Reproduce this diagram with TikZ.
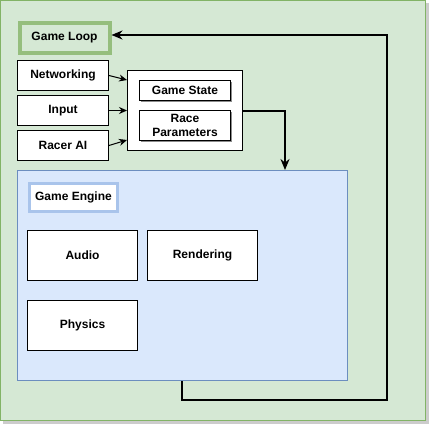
\documentclass[tikz,border=0pt]{standalone}
\usepackage{fontspec}
\setmainfont{Liberation Sans}
\usetikzlibrary{arrows.meta}
\definecolor{gfill}{HTML}{D5E8D4}
\definecolor{gline}{HTML}{82B366}
\definecolor{bfill}{HTML}{DAE8FC}
\definecolor{bline}{HTML}{6C8EBF}
\definecolor{bthick}{HTML}{A9C4EB}
\begin{document}
\begin{tikzpicture}[x=1pt,y=-1pt,
  lbl/.style={font=\fontsize{12}{14}\selectfont\bfseries, align=center},
  wbox/.style={draw=black, fill=white, line width=1pt, lbl},
  arr/.style={-{Stealth[length=8pt,width=7pt]}, line width=1pt},
  bigarr/.style={-{Stealth[length=11pt,width=9pt]}, line width=2pt}]
\useasboundingbox (0,0) rectangle (438,433);
% outer shadow + container
\fill[black!20] (3,3) rectangle (429,424);
\draw[fill=gfill, draw=gline, line width=1pt] (0.5,0.5) coordinate (o1) rectangle (425,420) coordinate (o2);
% game loop label
\node[lbl, draw=gline!85, line width=4pt, fill=gfill, minimum width=90pt, minimum height=30pt, anchor=north west] (loop) at (17.5,21) {Game Loop};
% inputs
\node[wbox, minimum width=91pt, minimum height=30pt, anchor=north west] (net) at (17,60) {Networking};
\node[wbox, minimum width=91pt, minimum height=30pt, anchor=north west] (inp) at (17,95) {Input};
\node[wbox, minimum width=91pt, minimum height=30pt, anchor=north west] (ai) at (17,130) {Racer AI};
% state container
\node[draw=black, fill=white, line width=1pt, minimum width=115pt, minimum height=80pt, anchor=north west] (state) at (127,70) {};
\fill[black!45] (141,82) rectangle (232,102);
\node[wbox, minimum width=91pt, minimum height=20pt, anchor=north west, inner sep=0pt] (gs) at (139,80) {Game State};
\fill[black!45] (141,112) rectangle (232,142);
\node[wbox, minimum width=91pt, minimum height=30pt, anchor=north west, inner sep=0pt, font=\fontsize{12}{14}\selectfont\bfseries] (rp) at (139,110) {Race\\Parameters};
% engine
\node[draw=bline, fill=bfill, line width=1pt, minimum width=330pt, minimum height=210pt, anchor=north west] (eng) at (17,170) {};
\node[lbl, draw=bthick, line width=3pt, fill=white, minimum width=88pt, minimum height=28pt, anchor=north west] (englbl) at (28,182) {Game Engine};
\node[wbox, minimum width=110pt, minimum height=50pt, anchor=north west] (audio) at (27,230) {Audio};
\node[wbox, minimum width=110pt, minimum height=50pt, anchor=north west] (rend) at (147,230) {Rendering};
\node[wbox, minimum width=110pt, minimum height=50pt, anchor=north west] (phys) at (27,300) {Physics};
% arrows
\draw[arr] (net.east) -- (state.west |- 0,80);
\draw[arr] (inp.east) -- (state.west |- inp.east);
\draw[arr] (ai.east) -- (state.west |- 0,140);
\draw[bigarr] (state.east |- 0,111) -- (285,111) -- (285,170);
\coordinate (c1) at (182,400);
\coordinate (c2) at (387,400);
\coordinate (c3) at (387,35);
\draw[bigarr] (eng.south -| 182,0) -- (c1) -- (c2) -- (c3) -- (loop.east |- c3);
\end{tikzpicture}
\end{document}
